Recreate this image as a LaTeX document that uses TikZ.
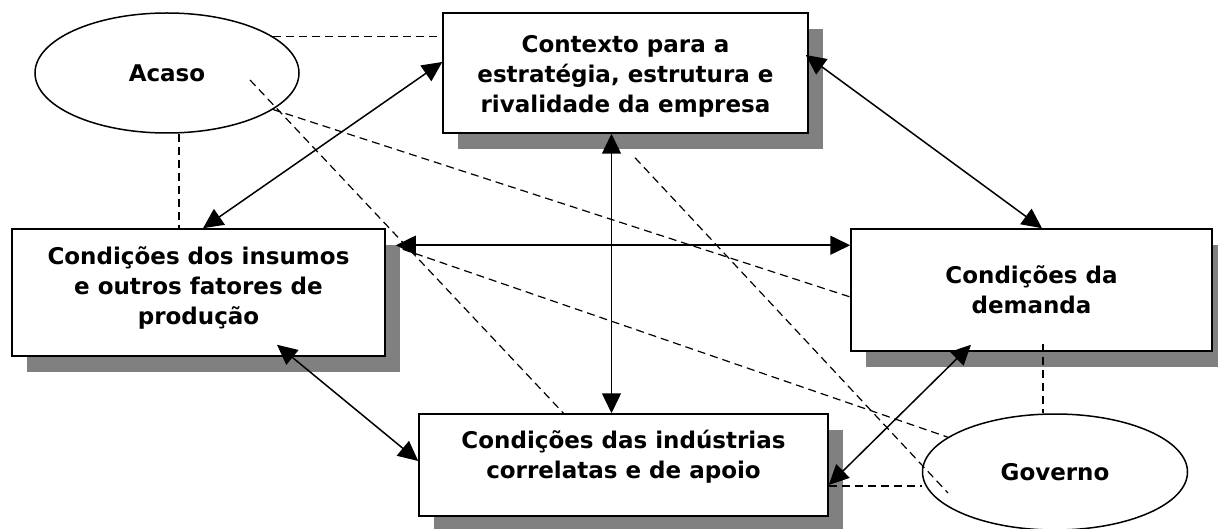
\documentclass[tikz,border=0pt]{standalone}
\usepackage{fontspec}
\setmainfont{DejaVu Sans}
\usetikzlibrary{shapes.geometric,shadows,calc,arrows.meta}
\definecolor{shadowgray}{RGB}{128,128,128}
\newcommand\myfnt{\fontsize{23}{30}\selectfont\bfseries}
\begin{document}
\begin{tikzpicture}[x=1pt,y=-1pt,
  box/.style={draw,line width=1.5pt,fill=white,rectangle,inner sep=0pt,
     drop shadow={shadow xshift=15pt,shadow yshift=-16pt,fill=shadowgray,opacity=1}},
  oval/.style={draw,line width=1.5pt,fill=white,ellipse,inner sep=0pt,font=\myfnt},
  txt/.style={align=center,font=\myfnt,inner sep=0pt},
  link/.style={line width=1.5pt,{Triangle[length=20pt,width=19pt]}-{Triangle[length=20pt,width=19pt]}},
  dashlink/.style={line width=1.2pt,dash pattern=on 8pt off 5pt}]
\useasboundingbox (0,0) rectangle (1218,529);
% boxes
\node[box,minimum width=365pt,minimum height=120pt] (ctx) at (625.5,73) {};
\node[box,minimum width=373pt,minimum height=127pt] (ins) at (198.5,292.5) {};
\node[box,minimum width=361pt,minimum height=122pt] (dem) at (1031.5,290) {};
\node[box,minimum width=409pt,minimum height=102pt] (corr) at (623.5,465) {};
\node[oval,minimum width=264pt,minimum height=120pt] (acaso) at (167,73) {Acaso};
\node[oval,minimum width=265pt,minimum height=116pt] (gov) at (1055,472) {Governo};
% texts
\node[txt] (ctxt) at (625.5,76) {Contexto para a\\estratégia, estrutura e\\rivalidade da empresa};
\node[txt] (inst) at (198.5,288) {Condições dos insumos\\e outros fatores de\\produção};
\node[txt] (demt) at (1031.5,290) {Condições da\\demanda};
\node[txt] (corrt) at (623.5,457) {Condições das indústrias\\correlatas e de apoio};
% solid double arrows
\draw[link] ($(ctx.west)+(0,-11)$) -- ($(ins.north)+(4.5,0)$);
\draw[link] ($(ctx.east)+(-3,-18)$) -- ($(dem.north)+(10.5,0)$);
\draw[link] ($(ctx.south)+(-14,0)$) -- ($(corr.north)+(-12,0)$);
\draw[link] ($(ins.north east)+(10,17)$) -- ($(dem.north west)+(0,17)$);
\draw[link] ($(ins.south)+(78.5,-12)$) -- ($(corr.west)+(0,-4)$);
\draw[link] ($(dem.south)+(-60.5,-7)$) -- ($(corr.east)+(0,20)$);
% dashed links
\draw[dashlink] (acaso.19) -- (acaso.19 -| ctx.west);
\draw[dashlink] ($(acaso.south)+(12,0)$) -- ($(ins.north)+(-19.5,0)$);
\draw[dashlink] ($(acaso.center)+(83,7)$) -- ($(corr.north)+(-60,0)$);
\draw[dashlink] (acaso.-19) -- ($(dem.west)+(0,7)$);
\draw[dashlink] ($(ins.north east)+(17,21)$) -- (gov.162);
\draw[dashlink] ($(ctx.south)+(9.5,24)$) -- ($(gov.center)+(-107,21)$);
\coordinate (ce) at ($(corr.east)+(0,21)$);
\draw[dashlink] (ce) -- (ce -| gov.west);
\draw[dashlink] ($(dem.south)+(11.5,-8)$) -- ($(gov.north)+(-12,0)$);
\end{tikzpicture}
\end{document}
